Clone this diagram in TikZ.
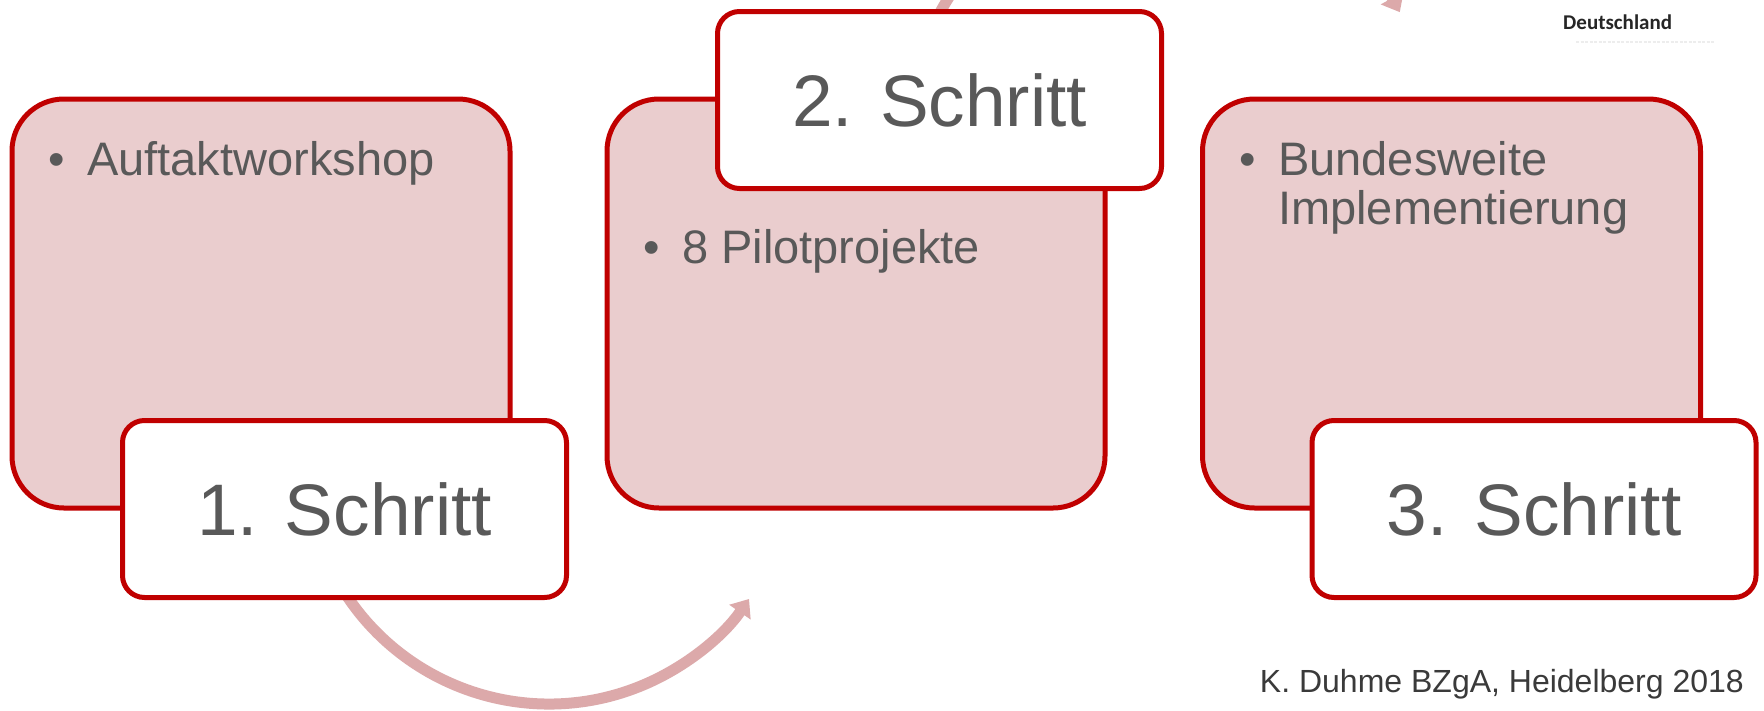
\documentclass[tikz,border=0pt]{standalone}
\usepackage{fontspec}
\setmainfont{Liberation Sans}
\newfontfamily\carlito{Carlito}
\usetikzlibrary{arrows.meta}
\definecolor{bordred}{HTML}{C00000}
\definecolor{boxfill}{HTML}{EACDCE}
\definecolor{arcpink}{HTML}{DCA9AA}
\definecolor{txtgray}{HTML}{595959}
\definecolor{footgray}{HTML}{3A3A3A}
\begin{document}
\begin{tikzpicture}[x=1pt,y=-1pt,
  bigbox/.style={draw=bordred, line width=5pt, fill=boxfill, rounded corners=52pt,
    minimum width=498pt, minimum height=409pt, inner sep=0pt},
  stepbox/.style={draw=bordred, line width=5pt, fill=white, rounded corners=22pt,
    minimum width=444pt, minimum height=177pt, inner sep=0pt, text=txtgray,
    font=\fontsize{73}{73}\selectfont},
  bul/.style={anchor=base, text=txtgray, font=\fontsize{47}{47}\selectfont, inner sep=0pt},
  item/.style={anchor=base west, text=txtgray, font=\fontsize{47}{47}\selectfont, inner sep=0pt},
  cyc/.style={draw=arcpink, line width=11pt, -{Triangle[length=16pt,width=25pt]}}
]
\useasboundingbox (0,0) rectangle (1764,710);
\fill[white] (0,0) rectangle (1764,710);

% cycle arcs
\coordinate (c1) at (549,461);
\coordinate (c2) at (1170,138);
\draw[cyc] (c1) ++(155:243) arc[start angle=155, end angle=34.6, radius=243];
\draw[cyc] (c2) ++(200:262) arc[start angle=200, end angle=331.3, radius=262];

% content boxes
\node[bigbox] (b1) at (261,303.5) {};
\node[bigbox] (b2) at (856,303.5) {};
\node[bigbox] (b3) at (1451.5,303.5) {};

% step labels
\node[stepbox] (s1) at (344.5,509) {1. Schritt};
\node[stepbox] (s2) at (939.5,100) {2. Schritt};
\node[stepbox] (s3) at (1534,509) {3. Schritt};

% bullet items
\node[bul] (p1) at (57,175) {•};
\node[item] (t1) at (87,175) {Auftaktworkshop};
\node[bul] (p2) at (652,263) {•};
\node[item] (t2) at (682,263) {8 Pilotprojekte};
\node[bul] (p3) at (1248,175) {•};
\node[item] (t3) at (1278,175) {Bundesweite};
\node[item] (t3b) at (1278,224) {Implementierung};

% footer and logo remnant
\node[anchor=base east, text=footgray, font=\fontsize{32}{32}\selectfont, inner sep=0pt] (foot) at (1744,692) {K. Duhme BZgA, Heidelberg 2018};
\node[anchor=base west, inner sep=0pt, font=\carlito\bfseries\fontsize{21}{21}\selectfont, text=black!85] (de) at (1563,29) {Deutschland};
\draw[black!7, line width=1.2pt, dash pattern=on 3pt off 1.5pt] (1576,42) -- (1714,42);
\end{tikzpicture}
\end{document}
